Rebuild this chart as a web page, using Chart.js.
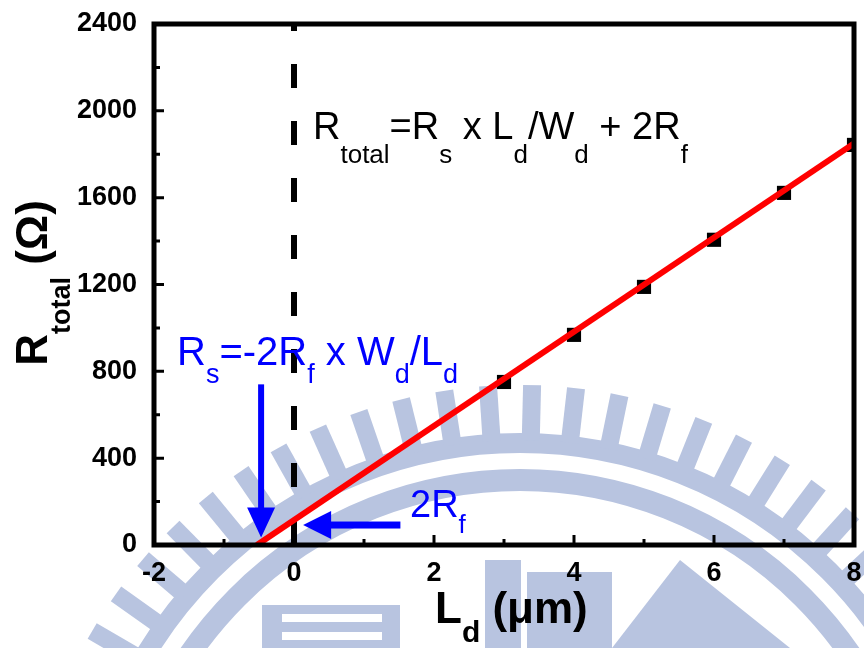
<!DOCTYPE html>
<html>
<head>
<meta charset="utf-8">
<script src="https://cdn.jsdelivr.net/npm/chart.js@4.4.1/dist/chart.umd.min.js"></script>
<style>
  html, body { margin: 0; padding: 0; background: #fff; }
  #wrap { width: 864px; height: 648px; }
</style>
</head>
<body>
<div id="wrap"><canvas id="myChart" width="864" height="648"></canvas></div>
<script>
// measured devices
var lengths = [3, 4, 5, 6, 7, 8];
var resistances = [751, 968, 1189, 1406, 1622, 1843];

// linear fit, extrapolated to R = 0
var fitX = [-0.53, 8];
var fitY = [0, 1850];

// dashed marker at Ld = 0
var zeroX = [0, 0];
var zeroY = [2400, 0];

var xMin = -2, xMax = 8, xStep = 2;
var yMin = 0, yMax = 2400, yStep = 400;

var FONT = '"Liberation Sans", Arial, sans-serif';
var WM = '#b8c4e0';

function toPoints(xs, ys) {
  var pts = [];
  for (var i = 0; i < xs.length; i++) {
    pts.push({ x: xs[i], y: ys[i] });
  }
  return pts;
}

// text with subscripts: parts = [[text, isSub], ...]
// st = {size, sub, off, weight, color}
function richWidth(ctx, parts, st) {
  var w = 0;
  parts.forEach(function (p) {
    ctx.font = st.weight + ' ' + (p[1] ? st.sub : st.size) + 'px ' + FONT;
    w += ctx.measureText(p[0]).width;
  });
  return w;
}
function drawRich(ctx, x, y, parts, st) {
  ctx.fillStyle = st.color;
  ctx.textBaseline = 'alphabetic';
  ctx.textAlign = 'left';
  parts.forEach(function (p) {
    ctx.font = st.weight + ' ' + (p[1] ? st.sub : st.size) + 'px ' + FONT;
    ctx.fillText(p[0], x, p[1] ? y + st.off : y);
    x += ctx.measureText(p[0]).width;
  });
}

function arrow(ctx, x1, y1, x2, y2, shaft, headW, headL) {
  var a = Math.atan2(y2 - y1, x2 - x1);
  var len = Math.hypot(x2 - x1, y2 - y1);
  ctx.save();
  ctx.translate(x1, y1);
  ctx.rotate(a);
  ctx.fillStyle = '#0000ff';
  ctx.fillRect(0, -shaft / 2, len - headL + 1, shaft);
  ctx.beginPath();
  ctx.moveTo(len, 0);
  ctx.lineTo(len - headL, -headW / 2);
  ctx.lineTo(len - headL, headW / 2);
  ctx.closePath();
  ctx.fill();
  ctx.restore();
}

// faint logo behind the plot
var watermark = {
  id: 'watermark',
  beforeDraw: function (chart) {
    var ctx = chart.ctx;
    var cx = 520, cy = 880;
    ctx.save();
    ctx.fillStyle = WM;
    ctx.strokeStyle = WM;
    ctx.lineWidth = 20;
    ctx.beginPath();
    ctx.arc(cx, cy, 437, Math.PI, 2 * Math.PI);
    ctx.stroke();
    ctx.lineWidth = 22;
    ctx.beginPath();
    ctx.arc(cx, cy, 400, Math.PI, 2 * Math.PI);
    ctx.stroke();
    for (var a = -160; a <= -20; a += 5.1) {
      ctx.save();
      ctx.translate(cx, cy);
      ctx.rotate(a * Math.PI / 180);
      ctx.fillRect(440, -9, 55, 18);
      ctx.restore();
    }
    // lower part of the emblem
    ctx.fillRect(262, 605, 138, 43);
    ctx.fillRect(485, 560, 36, 88);
    ctx.fillRect(527, 572, 85, 76);
    ctx.beginPath();
    ctx.moveTo(612, 648);
    ctx.lineTo(680, 560);
    ctx.lineTo(790, 648);
    ctx.closePath();
    ctx.fill();
    ctx.fillStyle = '#fff';
    ctx.fillRect(282, 614, 100, 8);
    ctx.fillRect(282, 632, 100, 8);
    ctx.restore();
  }
};

var frame = {
  id: 'frame',
  afterDatasetsDraw: function (chart) {
    var ctx = chart.ctx;
    var a = chart.chartArea;
    var xs = chart.scales.x, ys = chart.scales.y;
    ctx.save();
    ctx.strokeStyle = '#000';
    ctx.lineWidth = 5;
    ctx.strokeRect(a.left, a.top, a.right - a.left, a.bottom - a.top);
    ctx.lineWidth = 3;
    ctx.beginPath();
    for (var v = yMin + 200; v < yMax; v += 200) {
      var py = ys.getPixelForValue(v);
      var l = (v % yStep === 0) ? 10 : 6;
      ctx.moveTo(a.left, py);
      ctx.lineTo(a.left + l, py);
    }
    for (var u = xMin + 1; u < xMax; u += 1) {
      var px = xs.getPixelForValue(u);
      var m = (u % xStep === 0) ? 10 : 6;
      ctx.moveTo(px, a.bottom);
      ctx.lineTo(px, a.bottom - m);
    }
    ctx.stroke();
    ctx.restore();
  },
  afterDraw: function (chart) {
    var ctx = chart.ctx;
    var xs = chart.scales.x, ys = chart.scales.y;
    ctx.save();

    // vertical arrow to the x intercept
    arrow(ctx, xs.getPixelForValue(-0.47), ys.getPixelForValue(740),
      xs.getPixelForValue(-0.47), ys.getPixelForValue(35), 6, 28, 30);
    // horizontal arrow to the y intercept
    arrow(ctx, xs.getPixelForValue(1.52), ys.getPixelForValue(92),
      xs.getPixelForValue(0.13), ys.getPixelForValue(92), 7, 28, 28);

    drawRich(ctx, 313, 139, [['R', 0], ['total', 1], ['=R', 0], ['s', 1], [' x L', 0], ['d', 1],
      ['/W', 0], ['d', 1], [' + 2R', 0], ['f', 1]],
      { size: 38, sub: 26, off: 24, weight: 'normal', color: '#000' });
    drawRich(ctx, 177, 365, [['R', 0], ['s', 1], ['=-2R', 0], ['f', 1], [' x W', 0], ['d', 1],
      ['/L', 0], ['d', 1]],
      { size: 40, sub: 27, off: 18, weight: 'normal', color: '#0000ff' });
    drawRich(ctx, 410, 517, [['2R', 0], ['f', 1]],
      { size: 38, sub: 26, off: 16, weight: 'normal', color: '#0000ff' });

    // axis titles
    var xst = { size: 44, sub: 30, off: 19, weight: 'bold', color: '#000' };
    drawRich(ctx, 435, 623, [['L', 0], ['d', 1], [' (\u03bcm)', 0]], xst);

    var yst = { size: 44, sub: 27, off: 23, weight: 'bold', color: '#000' };
    var yt = [['R', 0], ['total', 1], [' (\u03a9)', 0]];
    var yw = richWidth(ctx, yt, yst);
    ctx.save();
    ctx.translate(47, 283);
    ctx.rotate(-Math.PI / 2);
    drawRich(ctx, -yw / 2, 0, yt, yst);
    ctx.restore();

    ctx.restore();
  }
};

var ctx = document.getElementById('myChart').getContext('2d');
new Chart(ctx, {
  type: 'scatter',
  data: {
    datasets: [
      {
        label: 'fit',
        data: toPoints(fitX, fitY),
        showLine: true,
        borderColor: '#ff0000',
        borderWidth: 6,
        pointRadius: 0
      },
      {
        label: 'Ld = 0',
        data: toPoints(zeroX, zeroY),
        showLine: true,
        borderColor: '#000',
        borderWidth: 6,
        borderDash: [24, 33],
        borderDashOffset: 17,
        borderCapStyle: 'butt',
        pointRadius: 0
      },
      {
        label: 'Rtotal',
        data: toPoints(lengths, resistances),
        pointStyle: 'rect',
        pointRadius: 10,
        pointBackgroundColor: '#000',
        pointBorderWidth: 0
      }
    ]
  },
  options: {
    responsive: false,
    animation: false,
    layout: { padding: { top: 24, right: 7, left: 0, bottom: 0 } },
    plugins: { legend: { display: false }, tooltip: { enabled: false } },
    scales: {
      x: {
        type: 'linear',
        min: xMin, max: xMax,
        grid: { display: false, drawTicks: true, tickLength: 12 },
        border: { display: false },
        ticks: {
          stepSize: xStep,
          padding: 0,
          color: '#000',
          maxRotation: 0,
          font: { family: FONT, size: 27, weight: 'bold' },
          callback: function (v) { return String(v); }
        },
        afterFit: function (s) { s.height = 103; }
      },
      y: {
        type: 'linear',
        min: yMin, max: yMax,
        grid: { display: false, drawTicks: true, tickLength: 17 },
        border: { display: false },
        ticks: {
          stepSize: yStep,
          padding: 0,
          color: '#000',
          font: { family: FONT, size: 27, weight: 'bold' },
          callback: function (v) { return String(v); }
        },
        afterFit: function (s) { s.width = 154; }
      }
    }
  },
  plugins: [watermark, frame]
});
</script>
</body>
</html>
